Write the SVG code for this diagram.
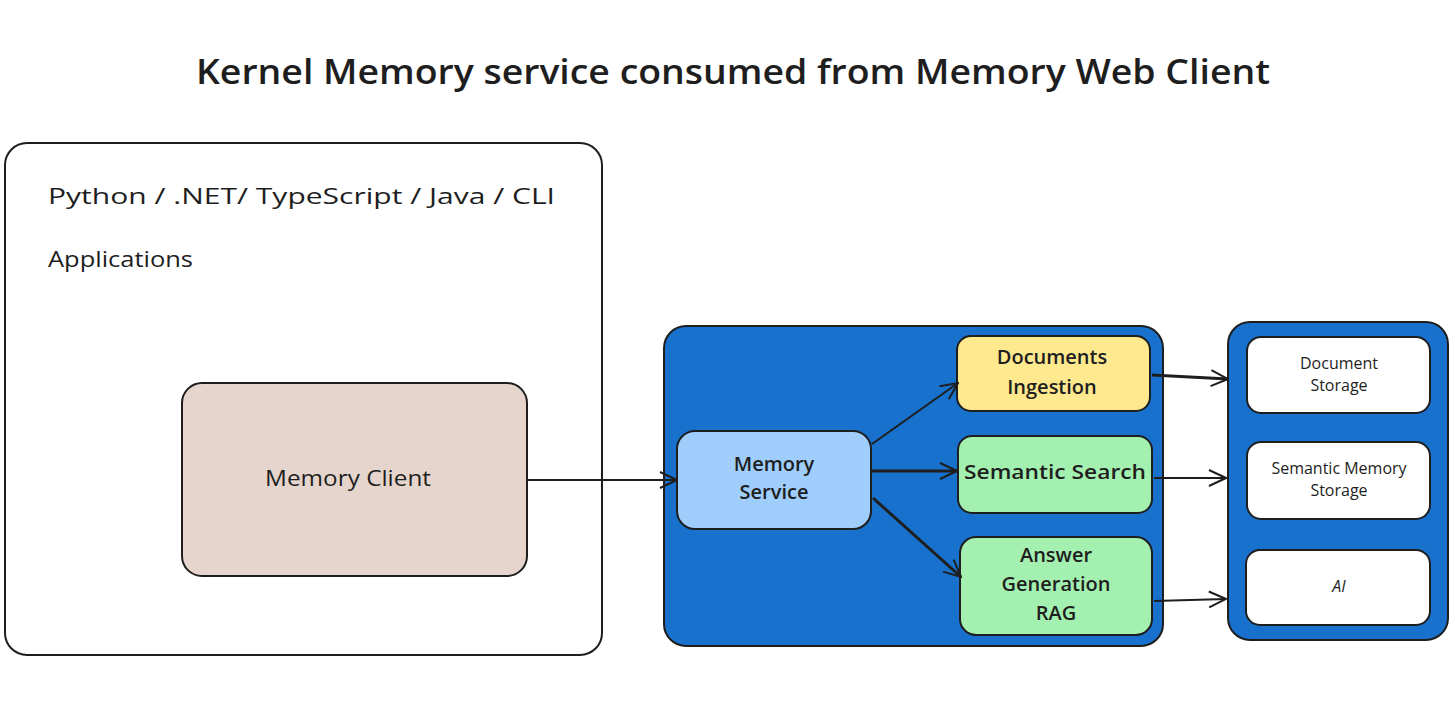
<svg xmlns="http://www.w3.org/2000/svg" width="1455" height="716" viewBox="0 0 1455 716">
<style>
text{font-family:"Open Sans","Liberation Sans",sans-serif;fill:#1e1e1e;text-anchor:middle;dominant-baseline:middle}
.box{stroke:#1e1e1e;stroke-width:2}
.blue{fill:#1872cd}
.conn{stroke:#1e1e1e;stroke-width:2;fill:none;marker-end:url(#ah)}
.t20{font-size:20px;font-weight:600}
.t16{font-size:16px}
</style>
<defs>
<marker id="ah" viewBox="0 0 20 20" refX="19" refY="10" markerWidth="20" markerHeight="20" markerUnits="userSpaceOnUse" orient="auto">
<path d="M2,2 L19,10 L2,18" fill="none" stroke="#1e1e1e" stroke-width="2"/>
</marker>
</defs>
<rect width="1455" height="716" fill="#ffffff"/>
<text x="733" y="75" style="font-size:34px;font-weight:600" textLength="1074" lengthAdjust="spacingAndGlyphs">Kernel Memory service consumed from Memory Web Client</text>

<g id="applications">
<rect class="box" x="5" y="143" width="597" height="512" rx="22" fill="#ffffff"/>
<text x="48" y="198" style="font-size:22px;text-anchor:start;font-weight:500" textLength="507" lengthAdjust="spacingAndGlyphs">Python / .NET/ TypeScript / Java / CLI</text>
<text x="48" y="261" style="font-size:22px;text-anchor:start;font-weight:500" textLength="145" lengthAdjust="spacingAndGlyphs">Applications</text>
</g>
<g id="memory-client">
<rect class="box" x="182" y="383" width="345" height="193" rx="20" fill="#e5d5cd"/>
<text x="348" y="480" style="font-size:22px;font-weight:500" textLength="166" lengthAdjust="spacingAndGlyphs">Memory Client</text>
</g>

<g id="service-container">
<rect class="box blue" x="664" y="326" width="499" height="320" rx="22"/>
</g>
<g id="memory-service">
<rect class="box" x="677" y="431" width="194" height="98" rx="18" fill="#9fcdfc"/>
<text class="t20" x="774" y="466">Memory</text>
<text class="t20" x="774" y="494">Service</text>
</g>
<g id="documents-ingestion">
<rect class="box" x="957" y="336" width="193" height="75" rx="14" fill="#ffe98f"/>
<text class="t20" x="1052" y="359">Documents</text>
<text class="t20" x="1052" y="389">Ingestion</text>
</g>
<g id="semantic-search">
<rect class="box" x="958" y="436" width="194" height="77" rx="14" fill="#a3f0b0"/>
<text class="t20" x="1055" y="474" textLength="182" lengthAdjust="spacingAndGlyphs">Semantic Search</text>
</g>
<g id="answer-generation">
<rect class="box" x="960" y="537" width="192" height="98" rx="16" fill="#a3f0b0"/>
<text class="t20" x="1056" y="557">Answer</text>
<text class="t20" x="1056" y="586">Generation</text>
<text class="t20" x="1056" y="615">RAG</text>
</g>

<g id="storage-container">
<rect class="box blue" x="1228" y="322" width="220" height="318" rx="22"/>
</g>
<g id="document-storage">
<rect class="box" x="1247" y="337" width="183" height="76" rx="14" fill="#ffffff"/>
<text class="t16" x="1339" y="365">Document</text>
<text class="t16" x="1339" y="387">Storage</text>
</g>
<g id="semantic-memory-storage">
<rect class="box" x="1247" y="442" width="183" height="77" rx="14" fill="#ffffff"/>
<text class="t16" x="1339" y="470">Semantic Memory</text>
<text class="t16" x="1339" y="492">Storage</text>
</g>
<g id="ai">
<rect class="box" x="1246" y="550" width="184" height="75" rx="14" fill="#ffffff"/>
<text class="t16" x="1339" y="588" style="font-style:italic">AI</text>
</g>

<g id="connectors">
<line class="conn" x1="528" y1="480" x2="677" y2="480"/>
<line class="conn" x1="872" y1="444" x2="958" y2="383"/>
<line class="conn" x1="872" y1="471" x2="957" y2="471" style="stroke-width:3"/>
<line class="conn" x1="873" y1="498" x2="961" y2="577" style="stroke-width:3"/>
<line class="conn" x1="1152" y1="375" x2="1228" y2="379" style="stroke-width:3"/>
<line class="conn" x1="1154" y1="478" x2="1226" y2="478"/>
<line class="conn" x1="1154" y1="601" x2="1226" y2="599"/>
</g>
</svg>
